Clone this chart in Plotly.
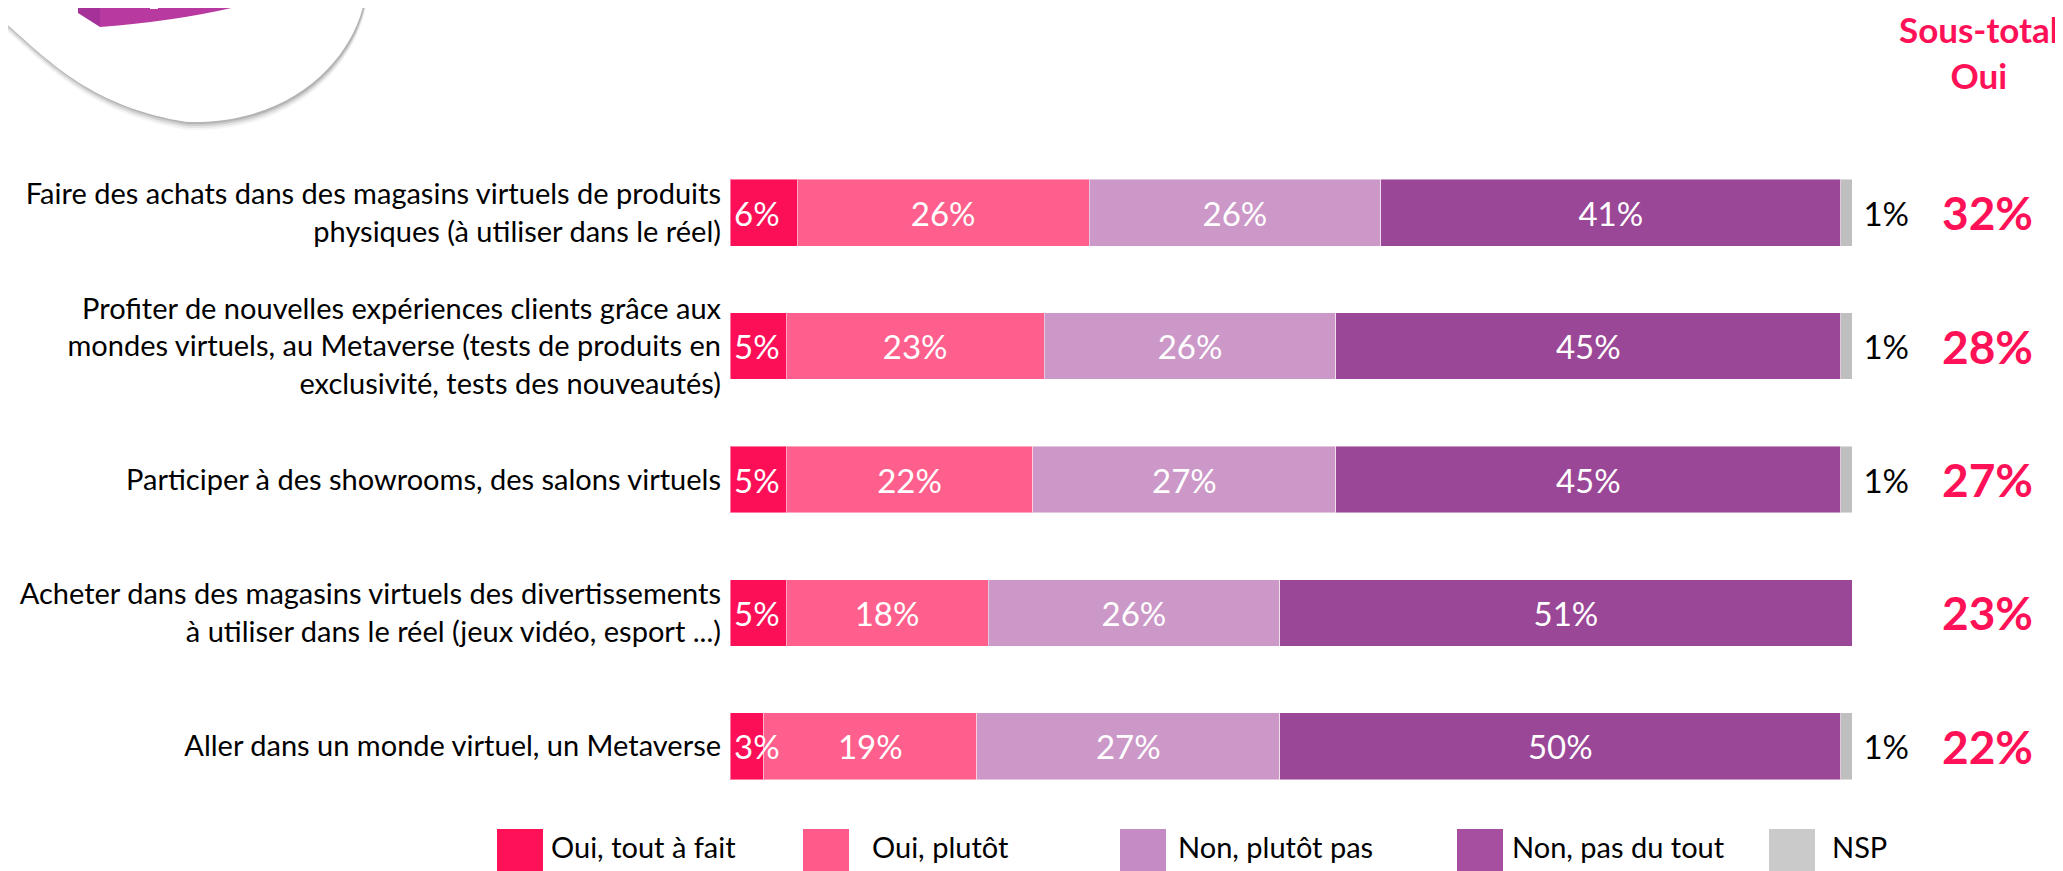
import plotly.graph_objects as go

# ---------------- data ----------------
categories = [
    "Faire des achats dans des magasins virtuels de produits<br>physiques (à utiliser dans le réel)",
    "Profiter de nouvelles expériences clients grâce aux<br>mondes virtuels, au Metaverse (tests de produits en<br>exclusivité, tests des nouveautés)",
    "Participer à des showrooms, des salons virtuels",
    "Acheter dans des magasins virtuels des divertissements<br>à utiliser dans le réel (jeux vidéo, esport ...)",
    "Aller dans un monde virtuel, un Metaverse",
]
series_names = ["Oui, tout à fait", "Oui, plutôt", "Non, plutôt pas", "Non, pas du tout", "NSP"]
oui_tout = [6, 5, 5, 5, 3]
oui_plutot = [26, 23, 22, 18, 19]
non_plutot = [26, 26, 27, 26, 27]
non_pas = [41, 45, 45, 51, 50]
nsp = [1, 1, 1, 0, 1]
sous_total_oui = [32, 28, 27, 23, 22]

bar_colors = ["#FC0F57", "#FF5F8D", "#CC98C8", "#9B4797", "#BFBFBF"]
legend_colors = ["#FF1157", "#FF5A8A", "#C48BC4", "#A64FA0", "#CACACA"]

FONT = "Lato"
OFF = 8  # page body margin
W, H = 2063 - OFF, 871 - OFF
# plot area in page pixels
PL, PR, PT, PB = 730, 1852, 146, 813
L, R, T, B = PL - OFF, PR - OFF, PT - OFF, PB - OFF


def px(x):
    """page pixel x -> paper"""
    return (x - OFF - L) / (R - L)


def py(y):
    """page pixel y -> paper"""
    return (B - (y - OFF)) / (B - T)


fig = go.Figure()
series = [oui_tout, oui_plutot, non_plutot, non_pas, nsp]
for i, (name, vals) in enumerate(zip(series_names, series)):
    is_nsp = name == "NSP"
    if i == 0:
        texts = ["" for v in vals]  # drawn as annotations on top (they overflow the narrow segment)
    elif is_nsp:
        texts = [("\u00a0" + f"{v}%") if v > 0 else "" for v in vals]
    else:
        texts = [f"{v}%" if v > 0 else "" for v in vals]
    fig.add_trace(go.Bar(
        y=categories, x=vals, name=name, orientation="h",
        marker=dict(color=bar_colors[i], line=dict(color="rgba(255,255,255,0.45)", width=1)),
        text=texts,
        textposition="outside" if is_nsp else "inside",
        insidetextanchor="middle",
        textangle=0,
        insidetextfont=dict(family=FONT, size=33, color="white"),
        outsidetextfont=dict(family=FONT, size=33, color="black"),
        constraintext="none",
        cliponaxis=False,
        showlegend=False,
        hoverinfo="skip",
    ))

# first-segment labels, left aligned at the bar start, on top of the bars
for cat, v in zip(categories, oui_tout):
    fig.add_annotation(x=0, xref="x", y=cat, yref="y", text=f"{v}%", showarrow=False,
                       xanchor="left", yanchor="middle", xshift=2,
                       font=dict(family=FONT, size=33, color="white"))

# Sous-total values
for cat, v in zip(categories, sous_total_oui):
    fig.add_annotation(x=px(1987), xref="paper", y=cat, yref="y", text=f"<b>{v}%</b>",
                       showarrow=False, xanchor="center", yanchor="middle",
                       font=dict(family=FONT, size=46, color="#FF1157"))

fig.add_annotation(x=px(1979), xref="paper", y=py(52), yref="paper",
                   text="<b>Sous-total</b><br><b>Oui</b>", showarrow=False,
                   xanchor="center", yanchor="middle",
                   font=dict(family=FONT, size=35, color="#FF1157"))

shapes = []


def blob_path(dx=0, dy=0):
    s = f"M {px(-10+dx)} {py(-10+dy)} L {px(-10+dx)} {py(10+dy)} "
    s += f"C {px(40+dx)} {py(50+dy)} {px(80+dx)} {py(105+dy)} {px(187+dx)} {py(122+dy)} "
    s += f"C {px(300+dx)} {py(125+dy)} {px(360+dx)} {py(50+dy)} {px(366+dx)} {py(-10+dy)} Z"
    return s


for d, op in [(8, 0.06), (6, 0.10), (4, 0.16), (2, 0.22)]:
    shapes.append(dict(type="path", xref="paper", yref="paper", path=blob_path(1, d),
                       fillcolor=f"rgba(90,90,90,{op})", line=dict(width=0), layer="above"))
shapes.append(dict(type="path", xref="paper", yref="paper", path=blob_path(),
                   fillcolor="white", line=dict(width=0), layer="above"))
# logo bag faces
side = f"M {px(78)} {py(-10)} L {px(78)} {py(13)} L {px(100)} {py(27)} L {px(100)} {py(-10)} Z"
front = f"M {px(100)} {py(-10)} L {px(100)} {py(27)} Q {px(190)} {py(20)} {px(255)} {py(2)} L {px(262)} {py(-10)} Z"
shapes.append(dict(type="path", xref="paper", yref="paper", path=side,
                   fillcolor="#A43298", line=dict(width=0), layer="above"))
shapes.append(dict(type="path", xref="paper", yref="paper", path=front,
                   fillcolor="#B8399F", line=dict(width=0), layer="above"))
shapes.append(dict(type="rect", xref="paper", yref="paper", x0=px(150), x1=px(158), y0=py(-10), y1=py(9),
                   fillcolor="white", line=dict(width=0), layer="above"))
shapes.append(dict(type="rect", xref="paper", yref="paper", x0=px(165), x1=px(200), y0=py(-10), y1=py(7),
                   fillcolor="white", line=dict(width=0), layer="above"))

# custom legend
sq_x = [497, 803, 1120, 1457, 1769]
tx_x = [549, 870, 1176, 1510, 1830]
for i, name in enumerate(series_names):
    shapes.append(dict(type="rect", xref="paper", yref="paper",
                       x0=px(sq_x[i]), x1=px(sq_x[i] + 46), y0=py(871), y1=py(829),
                       fillcolor=legend_colors[i], line=dict(width=0)))
    fig.add_annotation(x=px(tx_x[i]), xref="paper", y=py(847), yref="paper", text=name,
                       showarrow=False, xanchor="left", yanchor="middle",
                       font=dict(family=FONT, size=29, color="black"))

fig.update_layout(
    width=W, height=H,
    margin=dict(l=L, r=W - R, t=T, b=H - B, pad=0),
    barmode="stack", bargap=0.5,
    plot_bgcolor="white", paper_bgcolor="white",
    shapes=shapes,
    showlegend=False,
    font=dict(family=FONT, size=26, color="black"),
    xaxis=dict(range=[0, 100], visible=False, fixedrange=True),
    yaxis=dict(categoryorder="array", categoryarray=categories, autorange="reversed",
               ticks="", showline=False, showgrid=False, zeroline=False,
               ticklabelstandoff=8,
               tickfont=dict(family=FONT, size=29, color="black")),
)

fig.write_html("out.html")
